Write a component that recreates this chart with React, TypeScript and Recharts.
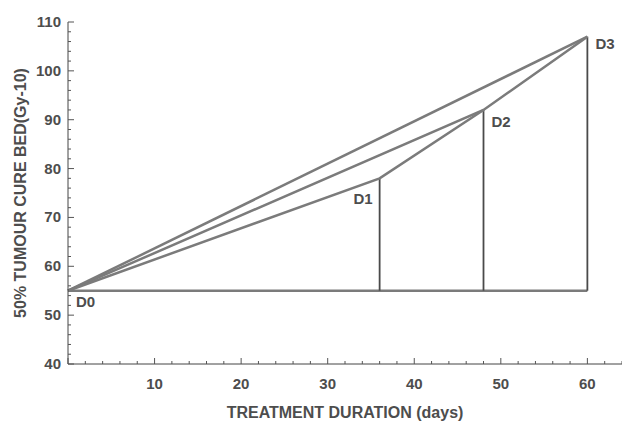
import { LineChart, Line, XAxis, YAxis, Scatter, LabelList } from "recharts";

// points of the schedule
const pointNames = ["D0", "D1", "D2", "D3"];
const days = [0, 36, 48, 60];
const bed = [55, 78, 92, 107];
const baseBed = 55;

// which points are joined by a diagonal line
const paths = [
  [0, 3],
  [0, 2, 3],
  [0, 1, 2],
];

const xTicks = Array.from({ length: 33 }, (_, i) => i * 2);
const yTicks = Array.from({ length: 36 }, (_, i) => 40 + i * 2);

const points = pointNames.map((name, i) => ({ name, x: days[i], y: bed[i] }));
const pathData = paths.map((p) => p.map((i) => points[i]));
const drops = points.slice(1).map((p) => [
  { x: p.x, y: baseBed },
  { x: p.x, y: p.y },
]);
const baseLine = [
  { x: days[0], y: baseBed },
  { x: days[days.length - 1], y: baseBed },
];

const textColor = "#4d4d4d";
const lineColor = "#7b7b7b";
const dropColor = "#4a4a4a";
const font = "'Liberation Sans', Arial, sans-serif";

const BottomTick = (props: any) => {
  const { x, y, payload } = props;
  const major = payload.value % 10 === 0;
  return (
    <g>
      <line x1={x} y1={y} x2={x} y2={y - (major ? 6 : 3)} stroke="#555" strokeWidth={1} />
      {major && payload.value !== 0 && (
        <text x={x} y={y + 25} textAnchor="middle" fill={textColor} fontSize={15} fontWeight="bold" fontFamily={font}>
          {payload.value}
        </text>
      )}
    </g>
  );
};

const TopTick = (props: any) => {
  const { x, y, payload } = props;
  const major = payload.value % 10 === 0;
  return <line x1={x} y1={y} x2={x} y2={y + (major ? 6 : 3)} stroke="#555" strokeWidth={1} />;
};

const LeftTick = (props: any) => {
  const { x, y, payload } = props;
  const major = payload.value % 10 === 0;
  return (
    <g>
      <line x1={x} y1={y} x2={x + (major ? 6 : 3)} y2={y} stroke="#555" strokeWidth={1} />
      {major && (
        <text x={x - 7} y={y + 5} textAnchor="end" fill={textColor} fontSize={15} fontWeight="bold" fontFamily={font}>
          {payload.value}
        </text>
      )}
    </g>
  );
};

const labelOffsets: Record<string, [number, number, string]> = {
  D0: [8, 16, "start"],
  D1: [-7, 26, "end"],
  D2: [8, 17, "start"],
  D3: [8, 12, "start"],
};

const PointLabel = (props: any) => {
  const { x, y, width, height, value } = props;
  const cx = x + (width || 0) / 2;
  const cy = y + (height || 0) / 2;
  const [dx, dy, anchor] = labelOffsets[value];
  return (
    <text x={cx + dx} y={cy + dy} textAnchor={anchor as any} fill={textColor} fontSize={15} fontWeight="bold" fontFamily={font}>
      {value}
    </text>
  );
};

export default function App() {
  return (
    <div style={{ position: "absolute", left: 0, top: 0, background: "#fff" }}>
      <LineChart width={622} height={426} margin={{ top: 22, right: 0, left: 0, bottom: 0 }}>
        <XAxis
          dataKey="x"
          type="number"
          domain={[0, 64]}
          ticks={xTicks}
          interval={0}
          height={62}
          tickSize={0}
          tickMargin={0}
          tickLine={false}
          tick={<BottomTick />}
          stroke="#444"
          label={{ value: "TREATMENT DURATION (days)", position: "insideBottom", offset: 8, fill: textColor, fontSize: 16, fontWeight: "bold", fontFamily: font }}
        />
        <XAxis
          xAxisId="top"
          orientation="top"
          dataKey="x"
          type="number"
          domain={[0, 64]}
          ticks={xTicks}
          interval={0}
          height={0}
          tickSize={0}
          tickMargin={0}
          tickLine={false}
          tick={<TopTick />}
          stroke="#444"
        />
        <YAxis
          dataKey="y"
          type="number"
          domain={[40, 110]}
          ticks={yTicks}
          interval={0}
          width={68}
          tickSize={0}
          tickMargin={0}
          tickLine={false}
          tick={<LeftTick />}
          stroke="#444"
          label={{ value: "50% TUMOUR CURE BED(Gy-10)", angle: -90, position: "insideLeft", offset: 20, style: { textAnchor: "middle" }, fill: textColor, fontSize: 16, fontWeight: "bold", fontFamily: font }}
        />
        <Line data={baseLine} dataKey="y" stroke={lineColor} strokeWidth={2.5} dot={false} isAnimationActive={false} />
        {drops.map((d, i) => (
          <Line key={"drop" + i} data={d} dataKey="y" stroke={dropColor} strokeWidth={1.8} dot={false} isAnimationActive={false} />
        ))}
        {pathData.map((d, i) => (
          <Line key={"path" + i} data={d} dataKey="y" stroke={lineColor} strokeWidth={2.5} dot={false} isAnimationActive={false} />
        ))}
        <Scatter data={points} dataKey="y" shape={() => null} isAnimationActive={false}>
          <LabelList dataKey="name" content={<PointLabel />} />
        </Scatter>
      </LineChart>
    </div>
  );
}
